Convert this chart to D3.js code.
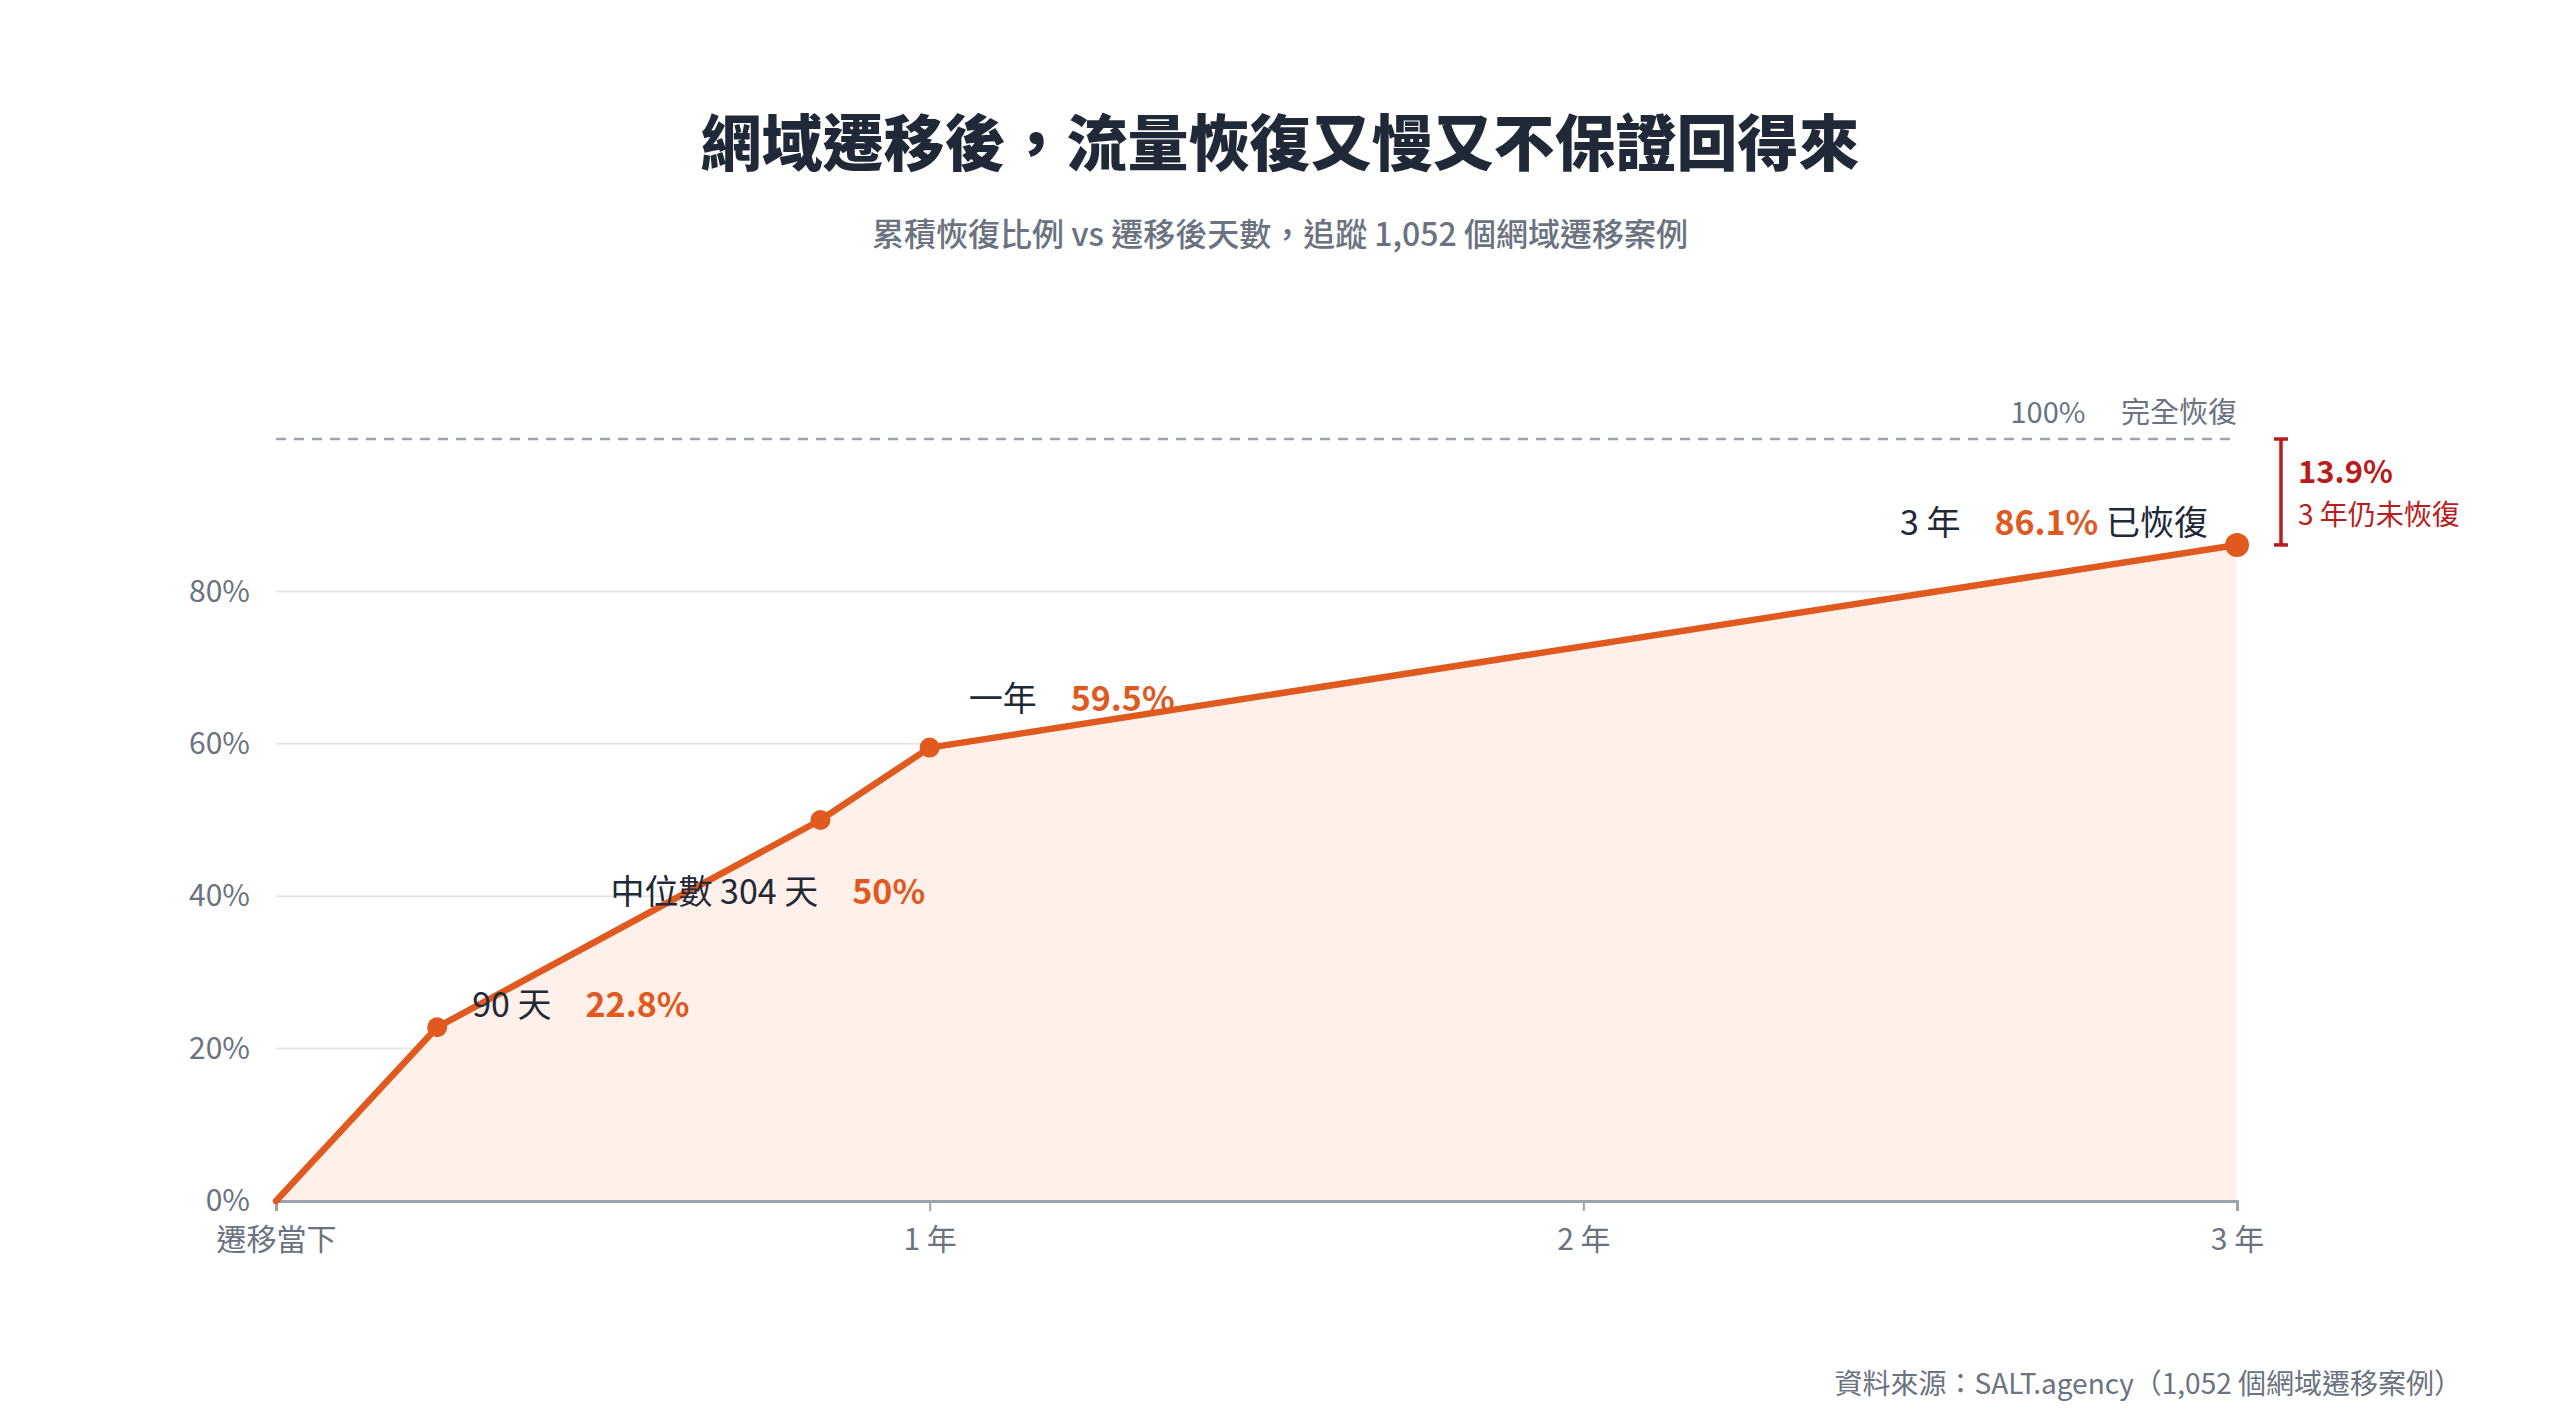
<!DOCTYPE html>
<html>
<head>
<meta charset="utf-8">
<script src="https://cdn.jsdelivr.net/npm/d3@7"></script>
<style>
  html, body { margin: 0; padding: 0; background: #fff; }
  body { font-family: "Noto Sans CJK TC", "Noto Sans", sans-serif; }
</style>
</head>
<body>
<div id="chart"></div>
<script>
// data
var days = [0, 90, 304, 365, 1095];
var recovered = [0, 22.8, 50, 59.5, 86.1];
var markerDays = [90, 304, 365, 1095];
var yTicks = [0, 20, 40, 60, 80];
var xTicks = [0, 365, 730, 1095];
var xTickLabels = ['遷移當下', '1 年', '2 年', '3 年'];
var noteLabels = ['90 天', '中位數 304 天', '一年', '3 年'];
var noteValues = ['22.8%', '50%', '59.5%', '86.1%'];
var noteSuffix = ['', '', '', ' 已恢復'];

var w = 2560;
var h = 1425;
var margin = {top: 439, right: 323, bottom: 224, left: 276};
var orange = '#e0591f';
var dark = '#1f2937';
var grey = '#6b7280';
var red = '#b91c1c';

var svg = d3.select('#chart')
  .append('svg')
    .attr('width', w)
    .attr('height', h);

var x = d3.scaleLinear()
  .domain([0, 1095])
  .range([margin.left, w - margin.right]);

var y = d3.scaleLinear()
  .domain([0, 100])
  .range([h - margin.bottom, margin.top]);

var pts = days.map((d, i) => ({day: d, v: recovered[i]}));

// title + subtitle
svg.append('text')
  .attr('x', w / 2).attr('y', 166)
  .attr('text-anchor', 'middle')
  .style('font-size', '61px').style('font-weight', 900)
  .style('fill', dark)
  .text('網域遷移後，流量恢復又慢又不保證回得來');

svg.append('text')
  .attr('x', w / 2).attr('y', 246)
  .attr('text-anchor', 'middle')
  .style('font-size', '32px').style('font-weight', 500)
  .style('fill', grey)
  .text('累積恢復比例 vs 遷移後天數，追蹤 1,052 個網域遷移案例');

// gridlines
svg.append('g')
  .selectAll('line')
  .data(yTicks.filter(d => d > 0))
  .enter()
  .append('line')
    .attr('x1', x(0)).attr('x2', x(1095))
    .attr('y1', d => y(d)).attr('y2', d => y(d))
    .style('stroke', '#e5e7eb')
    .style('stroke-width', '2px');

// 100% reference
svg.append('line')
  .attr('x1', x(0)).attr('x2', x(1095))
  .attr('y1', y(100)).attr('y2', y(100))
  .style('stroke', '#9ca3af')
  .style('stroke-width', '2.5px')
  .style('stroke-dasharray', '10,8');

svg.append('text')
  .attr('x', x(1095)).attr('y', y(100) - 16)
  .attr('text-anchor', 'end')
  .style('font-size', '29px').style('fill', grey)
  .text('100%\u2003 完全恢復');

// area + line
var area = d3.area()
  .x(d => x(d.day))
  .y0(y(0))
  .y1(d => y(d.v));

var line = d3.line()
  .x(d => x(d.day))
  .y(d => y(d.v));

svg.append('path')
  .datum(pts)
  .attr('d', area)
  .style('fill', '#fff1ea');

// y axis labels
var yAxis = d3.axisLeft(y)
  .tickValues(yTicks)
  .tickFormat(d => d + '%')
  .tickSize(0)
  .tickPadding(26);

var gy = svg.append('g')
  .attr('transform', 'translate(' + x(0) + ',0)')
  .call(yAxis);
gy.select('.domain').remove();
gy.selectAll('text')
  .style('font-family', '"Noto Sans CJK TC", sans-serif')
  .style('font-size', '30px')
  .style('fill', grey);

// x axis
var xAxis = d3.axisBottom(x)
  .tickValues(xTicks)
  .tickFormat((d, i) => xTickLabels[i])
  .tickSize(10)
  .tickPadding(18);

var gx = svg.append('g')
  .attr('transform', 'translate(0,' + y(0) + ')')
  .call(xAxis);
gx.select('.domain')
  .style('stroke', '#9ca3af')
  .style('stroke-width', '3px');
gx.selectAll('.tick line')
  .style('stroke', '#9ca3af')
  .style('stroke-width', '2px')
  .style('opacity', d => d === 0 ? 0 : 1);
gx.selectAll('text')
  .style('font-family', '"Noto Sans CJK TC", sans-serif')
  .style('font-size', '30px')
  .style('fill', grey);

svg.append('path')
  .datum(pts)
  .attr('d', line)
  .style('fill', 'none')
  .style('stroke', orange)
  .style('stroke-width', '6.5px')
  .style('stroke-linejoin', 'round')
  .style('stroke-linecap', 'round');

svg.selectAll('circle')
  .data(pts.filter(d => markerDays.indexOf(d.day) >= 0))
  .enter()
  .append('circle')
    .attr('cx', d => x(d.day))
    .attr('cy', d => y(d.v))
    .attr('r', d => d.day === 1095 ? 12 : 10)
    .style('fill', orange);

// annotations (offsets from each point)
var noteOffsets = [
  {dx: 35, dy: -10, anchor: 'start'},
  {dx: -210, dy: 84, anchor: 'start'},
  {dx: 39, dy: -37, anchor: 'start'},
  {dx: -29, dy: -10, anchor: 'end'}
];

markerDays.forEach(function (day, i) {
  var p = pts.find(d => d.day === day);
  var o = noteOffsets[i];
  var t = svg.append('text')
    .attr('x', x(p.day) + o.dx)
    .attr('y', y(p.v) + o.dy)
    .attr('text-anchor', o.anchor)
    .style('font-size', '34px')
    .style('fill', dark);
  t.append('tspan').text(noteLabels[i]);
  t.append('tspan')
    .attr('dx', 34)
    .style('fill', orange)
    .style('font-weight', 700)
    .text(noteValues[i]);
  if (noteSuffix[i]) t.append('tspan').text(noteSuffix[i]);
});

// gap bracket: 86.1% -> 100%
var bx = x(1095) + 44;
var last = pts[pts.length - 1];
var br = svg.append('g').style('stroke', red).style('stroke-width', '3.5px');
br.append('line').attr('x1', bx).attr('x2', bx).attr('y1', y(100)).attr('y2', y(last.v));
br.append('line').attr('x1', bx - 7).attr('x2', bx + 7).attr('y1', y(100)).attr('y2', y(100));
br.append('line').attr('x1', bx - 7).attr('x2', bx + 7).attr('y1', y(last.v)).attr('y2', y(last.v));

svg.append('text')
  .attr('x', bx + 17).attr('y', y(100) + 44)
  .style('font-size', '31px').style('font-weight', 700)
  .style('fill', red)
  .text((100 - last.v).toFixed(1) + '%');

svg.append('text')
  .attr('x', bx + 17).attr('y', y(100) + 86)
  .style('font-size', '28px')
  .style('fill', red)
  .text('3 年仍未恢復');

// source
svg.append('text')
  .attr('x', 2462).attr('y', 1394)
  .attr('text-anchor', 'end')
  .style('font-size', '28px').style('fill', grey)
  .text('資料來源：SALT.agency（1,052 個網域遷移案例）');
</script>
</body>
</html>
